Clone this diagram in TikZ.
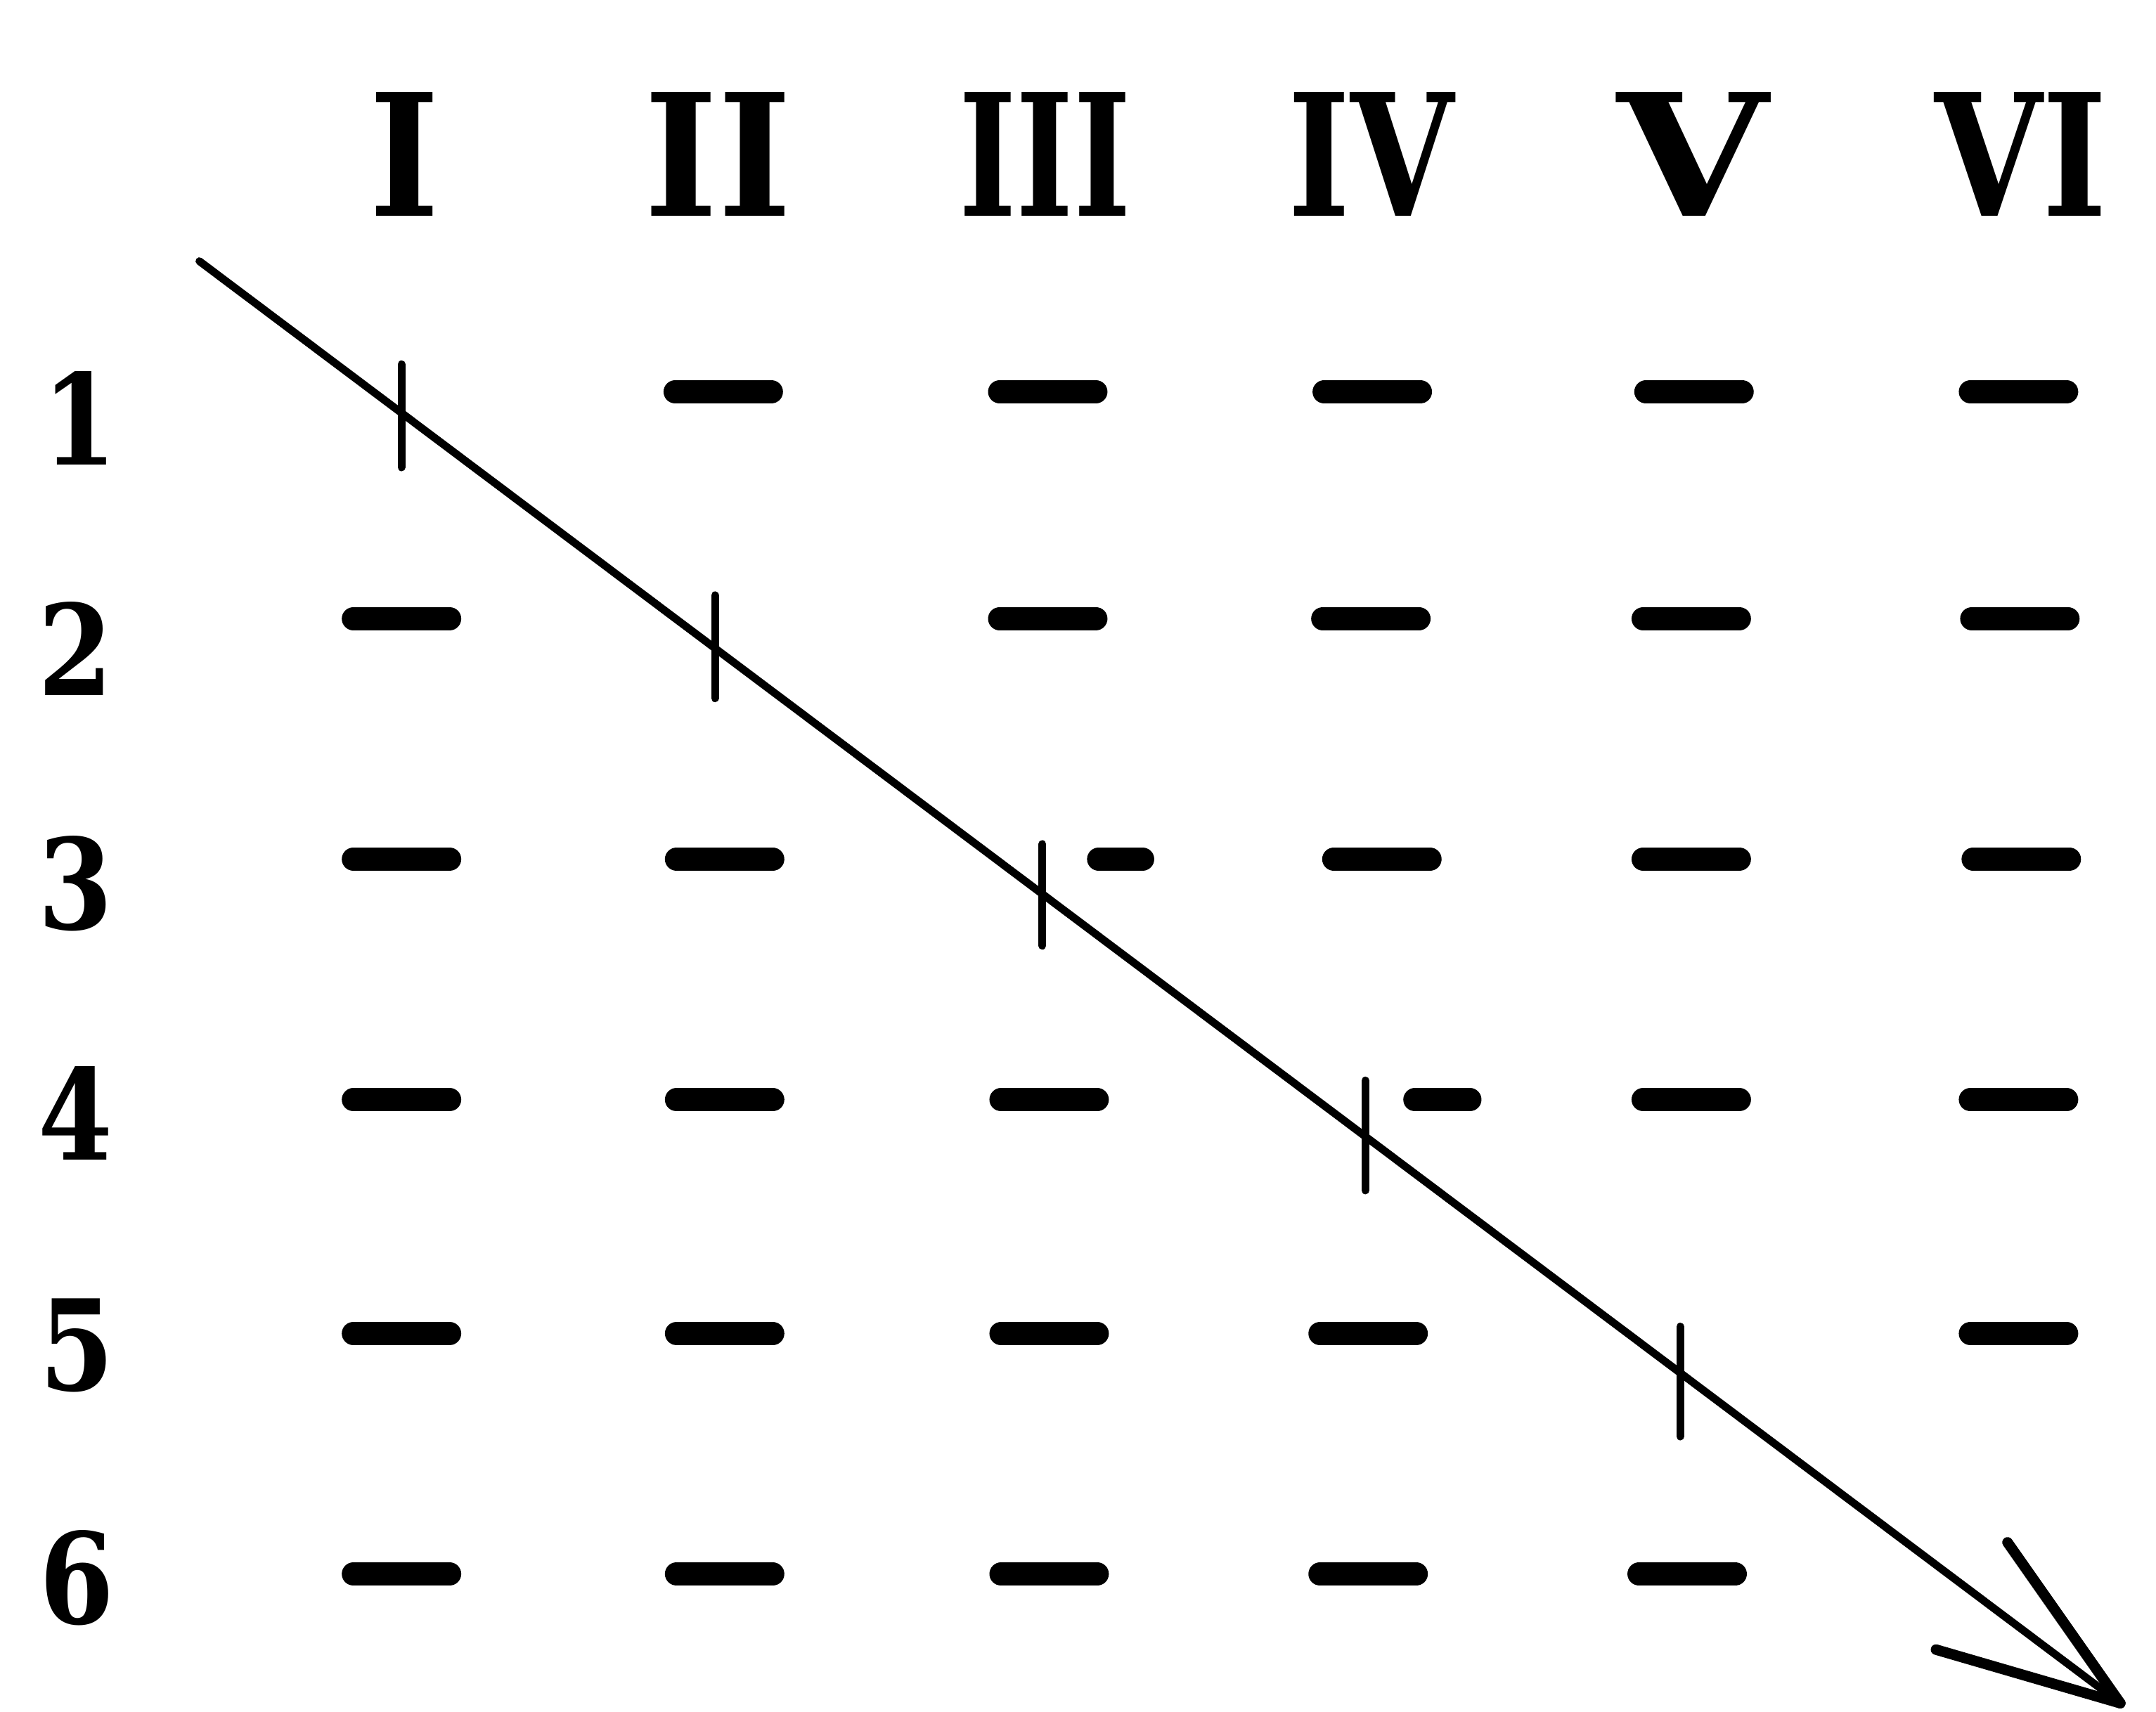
\documentclass[tikz,border=0pt]{standalone}
\usepackage{graphicx}
\usepackage{fontspec}
\newfontfamily\heavyserif{DejaVu Serif}
\begin{document}
\begin{tikzpicture}[x=0.01956cm,y=-0.01956cm,
  hdr/.style={inner sep=0pt,outer sep=0pt},
  rowlab/.style={inner sep=0pt,outer sep=0pt},
  cellbar/.style={line width=0.33cm,line cap=round},
  tickmark/.style={line width=0.11cm,line cap=round},
  diag/.style={line width=0.11cm,line cap=round},
  barb/.style={line width=0.15cm,line cap=round}]
\useasboundingbox (0,0) rectangle (1568,1245);
% column headers
\newcommand{\hdrtext}[2]{\resizebox{#1cm}{1.76cm}{\heavyserif\bfseries #2}}
\newcommand{\rowtext}[1]{\scalebox{0.85}[1]{\fontsize{51}{51}\selectfont\heavyserif\bfseries #1}}
\node[hdr] (h1) at (294,112) {\hdrtext{1.0}{I}};
\node[hdr] (h2) at (522,112) {\hdrtext{2.1}{II}};
\node[hdr] (h3) at (760,112) {\hdrtext{2.45}{III}};
\node[hdr] (h4) at (997,112) {\hdrtext{2.35}{IV}};
\node[hdr] (h5) at (1231,112) {\hdrtext{2.15}{V}};
\node[hdr] (h6) at (1470,112) {\hdrtext{2.45}{VI}};
% row labels
\node[rowlab] (r1) at (58,304) {\rowtext{1}};
\node[rowlab] (r2) at (55,472) {\rowtext{2}};
\node[rowlab] (r3) at (55,643) {\rowtext{3}};
\node[rowlab] (r4) at (55,810) {\rowtext{4}};
\node[rowlab] (r5) at (56,979) {\rowtext{5}};
\node[rowlab] (r6) at (56,1148) {\rowtext{6}};
% dashes
\foreach \x in {526,762,998,1232,1468} \draw[cellbar] (\x-35,285) -- (\x+35,285);
\foreach \x in {292,762,997,1230,1469} \draw[cellbar] (\x-35,450) -- (\x+35,450);
\foreach \x in {292,527,1005,1230,1470} \draw[cellbar] (\x-35,625) -- (\x+35,625);
\draw[cellbar] (799,625) -- (831,625);
\foreach \x in {292,527,763,1230,1468} \draw[cellbar] (\x-35,800) -- (\x+35,800);
\draw[cellbar] (1029,800) -- (1069,800);
\foreach \x in {292,527,763,995,1468} \draw[cellbar] (\x-35,970) -- (\x+35,970);
\foreach \x in {292,527,763,995,1227} \draw[cellbar] (\x-35,1145) -- (\x+35,1145);
% ticks
\draw[tickmark] (292,265) -- (292,340);
\draw[tickmark] (520,433) -- (520,508);
\draw[tickmark] (758,614) -- (758,688);
\draw[tickmark] (993,786) -- (993,866);
\draw[tickmark] (1222,965) -- (1222,1045);
% diagonal arrow
\coordinate (start) at (145,190);
\coordinate (tip) at (1542,1239);
\coordinate (b1) at (1460,1122);
\coordinate (b2) at (1408,1200);
\draw[diag] (start) -- (tip);
\draw[barb] (b1) -- (tip);
\draw[barb] (b2) -- (tip);
\end{tikzpicture}
\end{document}
